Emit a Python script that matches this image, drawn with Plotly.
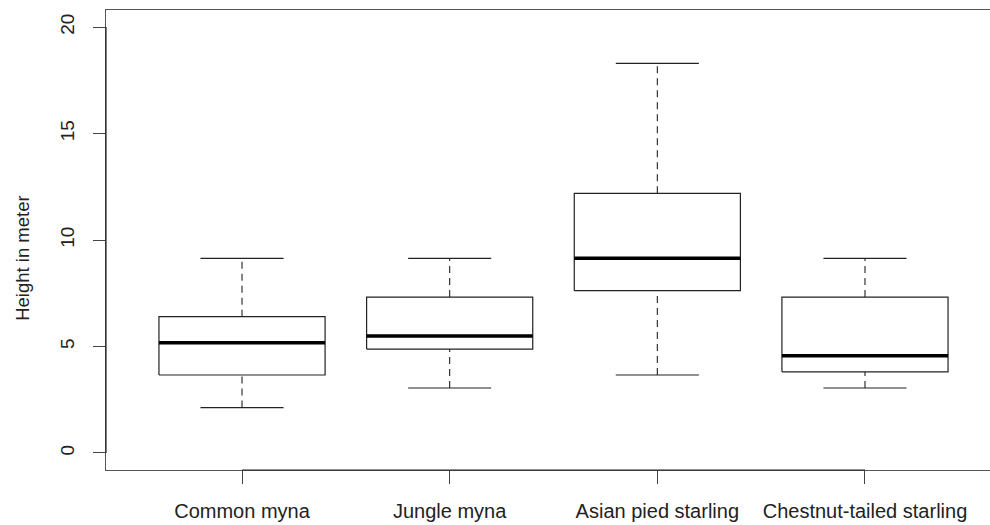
import plotly.graph_objects as go

# Tree height (m) at which each species was observed: five-number summaries
species = ["Common myna", "Jungle myna", "Asian pied starling", "Chestnut-tailed starling"]
lower_whisker = [2.13, 3.05, 3.66, 3.05]
q1 = [3.66, 4.88, 7.62, 3.81]
median = [5.18, 5.49, 9.14, 4.57]
q3 = [6.40, 7.32, 12.19, 7.32]
upper_whisker = [9.14, 9.14, 18.29, 9.14]

y_ticks = [0, 5, 10, 15, 20]

BOX_HALF = 0.4      # half box width in category units
CAP_HALF = 0.2      # half staple width
LINE = "#222222"
FONT = "Liberation Sans, Arial, Helvetica, sans-serif"

fig = go.Figure()

for i, name in enumerate(species):
    x = i + 1
    # dashed whiskers
    for lo, hi in ((lower_whisker[i], q1[i]), (q3[i], upper_whisker[i])):
        fig.add_trace(go.Scatter(
            x=[x, x], y=[lo, hi], mode="lines",
            line=dict(color=LINE, width=1.1, dash="7px,5px"),
            showlegend=False, hoverinfo="skip"))
    # staples
    for v in (lower_whisker[i], upper_whisker[i]):
        fig.add_trace(go.Scatter(
            x=[x - CAP_HALF, x + CAP_HALF], y=[v, v], mode="lines",
            line=dict(color=LINE, width=1.2),
            showlegend=False, hoverinfo="skip"))
    # box
    fig.add_trace(go.Scatter(
        x=[x - BOX_HALF, x + BOX_HALF, x + BOX_HALF, x - BOX_HALF, x - BOX_HALF],
        y=[q1[i], q1[i], q3[i], q3[i], q1[i]],
        mode="lines", fill="toself", fillcolor="white",
        line=dict(color=LINE, width=1.2),
        name=name, showlegend=False, hoverinfo="skip"))
    # median
    fig.add_trace(go.Scatter(
        x=[x - BOX_HALF, x + BOX_HALF], y=[median[i], median[i]], mode="lines",
        line=dict(color="black", width=3.5),
        showlegend=False, hoverinfo="skip"))

# axis lines spanning the first to last tick, as drawn by the axis itself
fig.add_shape(type="line", xref="x", yref="paper", x0=1, x1=len(species), y0=0, y1=0,
              line=dict(color="#222222", width=1.2))
fig.add_shape(type="line", xref="paper", yref="y", x0=0, x1=0, y0=y_ticks[0], y1=y_ticks[-1],
              line=dict(color="#222222", width=1.2))

# y-axis label
fig.add_annotation(
    text="Height in meter", textangle=-90,
    xref="paper", yref="paper", x=-0.094, y=0.461,
    xanchor="center", yanchor="middle", showarrow=False,
    font=dict(size=18.5, family=FONT, color="#222222"))

fig.update_layout(
    width=990, height=525,
    margin=dict(l=106, r=0, t=10, b=55),
    paper_bgcolor="white", plot_bgcolor="white",
    font=dict(family=FONT, color="#222222"),
    xaxis=dict(
        range=[0.345, 4.602],
        tickmode="array", tickvals=[1, 2, 3, 4], ticktext=species,
        tickfont=dict(size=20), ticks="outside", ticklen=13, tickcolor="#444444",
        ticklabelstandoff=10,
        showline=True, mirror=True, linecolor="#555555", linewidth=1,
        showgrid=False, zeroline=False,
    ),
    yaxis=dict(
        range=[-0.8, 20.8],
        tickmode="array", tickvals=y_ticks,
        tickangle=-90, tickfont=dict(size=19),
        ticks="outside", ticklen=12, tickcolor="#444444",
        ticklabelstandoff=11,
        showline=True, mirror=False, linecolor="#555555", linewidth=1,
        showgrid=False, zeroline=False,
    ),
)

fig.write_html("out.html")
